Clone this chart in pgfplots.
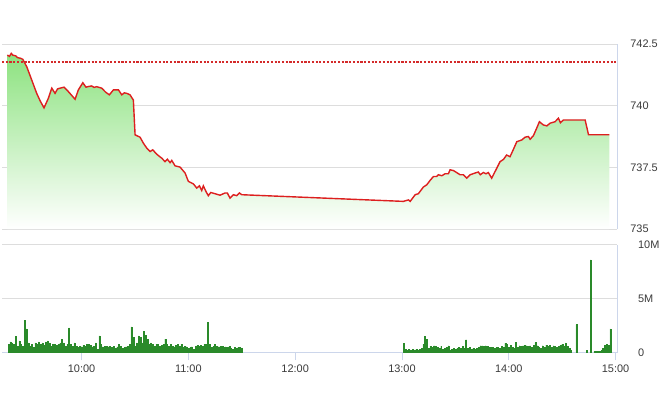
\documentclass[border=0pt]{standalone}
\usepackage{pgfplots}
\usepackage{pgfplotstable}
\pgfplotsset{compat=1.18}
\usepackage{fontspec}
\setmainfont{Liberation Sans}
\definecolor{linered}{HTML}{DD1F1F}
\definecolor{refred}{HTML}{D42A2A}
\definecolor{areagreen}{HTML}{8CE27F}
\definecolor{gridgray}{HTML}{DDDDDD}
\definecolor{axisblue}{HTML}{CCD6EB}
\definecolor{labelgray}{HTML}{3A3A3A}
\definecolor{bardark}{HTML}{2A8A2A}
\definecolor{barlight}{HTML}{86CC86}

\pgfplotstableread{
m p
18.3 742.05
19.5 742.00
20.5 742.12
21.35 742.05
23.0 742.02
24.0 741.95
25.8 741.92
26.97 741.88
29.2 741.58
32.0 741.04
34.8 740.50
36.7 740.20
38.9 739.91
41.35 740.30
43.26 740.71
45.1 740.50
46.5 740.68
47.9 740.71
50.2 740.75
52.6 740.57
56.35 740.26
58.2 740.64
60.7 740.93
62.5 740.75
64.0 740.78
65.7 740.80
67.0 740.74
68.5 740.77
71.3 740.71
73.5 740.55
75.6 740.44
77.9 740.64
80.7 740.64
82.6 740.44
84.0 740.52
85.4 740.50
87.2 740.44
89.1 740.23
90.06 738.82
92.87 738.72
94.72 738.48
96.63 738.28
98.48 738.14
100.0 738.21
102.25 738.03
105.06 737.87
106.91 737.73
108.2 737.83
109.72 737.69
110.67 737.78
112.53 737.56
115.34 737.51
118.15 737.27
120.0 736.93
122.8 736.83
124.7 736.66
126.2 736.75
127.5 736.56
128.4 736.75
129.9 736.52
131.2 736.35
132.6 736.48
135.0 736.43
137.8 736.37
140.6 736.46
141.9 736.46
143.4 736.25
145.3 736.39
147.2 736.35
148.7 736.46
150.0 736.39
240.8 736.12
243.6 736.18
244.6 736.12
247.4 736.39
249.2 736.43
252.0 736.70
253.9 736.79
255.8 736.97
257.7 737.13
259.5 737.13
260.4 737.20
262.4 737.16
264.2 737.24
266.1 737.24
267.0 737.40
268.9 737.37
270.7 737.29
272.6 737.20
274.5 737.20
276.4 737.06
278.3 737.20
281.1 737.27
282.9 737.31
284.0 737.20
285.7 737.29
287.2 737.24
288.5 737.29
290.4 737.06
292.3 737.33
295.1 737.73
297.0 737.82
298.8 738.00
300.7 737.93
302.6 738.23
304.5 738.54
307.3 738.61
309.1 738.72
311.0 738.75
312.0 738.64
313.8 738.78
315.7 739.09
317.2 739.35
319.4 739.22
321.4 739.18
323.2 739.29
326.0 739.35
327.9 739.49
329.0 739.31
330.7 739.42
342.9 739.42
344.8 738.82
356.5 738.82
}\price

\pgfplotstableread{
m v
19 0.8
20 1.0
21 0.9
22 0.8
23 1.5
24 0.6
25 1.1
26 0.8
27 0.6
28 3.0
29 2.2
30 0.9
31 0.6
32 0.8
33 0.5
34 0.9
35 0.8
36 1.0
37 0.8
38 0.9
39 0.7
40 1.0
41 1.1
42 0.9
43 0.6
44 0.8
45 0.8
46 0.7
47 0.8
48 0.9
49 1.25
50 0.9
51 0.6
52 0.8
53 2.3
54 0.8
55 0.6
56 0.9
57 0.6
58 0.5
59 0.6
60 0.55
61 0.7
62 0.6
63 0.8
64 0.8
65 0.7
66 0.55
67 0.6
68 0.9
69 0.3
70 1.56
71 0.8
72 0.55
73 0.6
74 0.6
75 0.55
76 0.6
77 0.5
78 0.6
79 0.4
80 0.55
81 0.8
82 0.6
83 0.4
84 0.5
85 0.55
86 0.6
87 0.8
88 2.4
89 1.4
90 0.6
91 0.9
92 1.56
93 1.4
94 0.9
95 2.0
96 1.6
97 1.25
98 0.8
99 0.9
100 0.8
101 0.6
102 0.8
103 0.8
104 0.6
105 0.7
106 0.8
107 1.25
108 0.8
109 0.6
110 0.8
111 0.6
112 0.55
113 0.7
114 0.8
115 0.6
116 0.8
117 0.5
118 0.6
119 0.55
120 0.4
121 0.47
122 0.55
123 0.3
124 0.6
125 0.7
126 0.6
127 0.7
128 0.6
129 0.8
130 0.8
131 2.8
132 0.8
133 0.5
134 0.6
135 0.8
136 0.6
137 0.55
138 0.6
139 0.6
140 0.47
141 0.55
142 0.47
143 0.6
144 0.4
145 0.3
146 0.47
147 0.4
148 0.5
149 0.47
150 0.44
241 0.87
242 0.3
243 0.2
244 0.3
245 0.25
246 0.3
247 0.25
248 0.3
249 0.25
250 0.3
251 0.4
252 0.8
253 1.5
254 1.25
255 0.4
256 0.6
257 0.5
258 0.65
259 0.6
260 0.5
261 0.4
262 0.6
263 0.3
264 0.4
265 0.5
266 0.65
267 0.25
268 0.3
269 0.4
270 0.3
271 0.4
272 0.5
273 0.4
274 0.6
275 0.4
276 1.2
277 0.4
278 0.5
279 0.3
280 0.4
281 0.3
282 0.4
283 0.5
284 0.65
285 0.65
286 0.6
287 0.65
288 0.6
289 0.5
290 0.5
291 0.5
292 0.4
293 0.5
294 0.5
295 0.4
296 0.6
297 0.5
298 0.87
299 0.8
300 0.5
301 0.7
302 0.5
303 0.4
304 0.94
305 0.5
306 0.65
307 0.6
308 0.65
309 0.7
310 0.65
311 0.6
312 0.65
313 0.5
314 0.7
315 0.94
316 0.65
317 0.5
318 0.4
319 0.65
320 0.5
321 0.7
322 0.6
323 0.7
324 0.5
325 0.65
326 0.6
327 0.5
328 0.6
329 0.7
330 0.8
331 0.65
332 0.9
333 0.6
334 0.4
335 0.2
338 2.6
344 0.2
346 8.6
348 0.1
349 0.1
350 0.1
351 0.1
352 0.2
353 0.4
354 0.7
355 0.8
356 0.7
357 2.2
}\volume

\begin{document}
\begin{tikzpicture}
\useasboundingbox (0,0) rectangle (495pt,309pt);
\pgfplotsset{
  every axis/.append style={
    scale only axis,
    width=461.25pt,
    xmin=15.3, xmax=360.8,
    font=\fontsize{8.2}{9.8}\selectfont,
    tick label style={text=labelgray},
    /pgf/number format/assume math mode=true,
    ymajorgrids,
    grid style={draw=gridgray, line width=0.6pt},
    axis line style={draw=axisblue, line width=0.6pt},
    ytick style={draw=none},
    yticklabel style={anchor=west, xshift=6.5pt},
  }
}
% price panel
\begin{axis}[
  at={(1.5pt,137.25pt)}, anchor=south west,
  height=138.75pt,
  ymin=735, ymax=742.5,
  axis x line=none,
  axis y line*=right,
  xtick=\empty,
  ytick={735,737.5,740,742.5},
  yticklabels={735,737.5,740,742.5},
]
\addplot[draw=none, top color=areagreen, bottom color=white] table[x=m,y=p] {\price} \closedcycle;
\addplot[linered, line width=1.05pt] table[x=m,y=p] {\price};
\addplot[refred, line width=1.1pt, dash pattern=on 1.6pt off 1.2pt] coordinates {(15.3,741.77) (360.8,741.77)};
\end{axis}
% volume panel
\begin{axis}[
  at={(1.5pt,44.5pt)}, anchor=south west,
  height=81pt,
  ymin=0, ymax=10,
  axis x line*=bottom,
  axis y line*=right,
  xtick={60,120,180,240,300,360},
  xticklabels={10:00,11:00,12:00,13:00,14:00,15:00},
  xtick style={draw=axisblue, line width=0.6pt},
  tick align=outside,
  major tick length=5.8pt,
  ytick={0,5,10},
  yticklabels={0,5M,10M},
]
\addplot[ybar, bar width=0.55, bar shift=0pt, fill=barlight, draw=bardark, line width=0.22pt] table[x=m,y=v] {\volume};
\end{axis}
\end{tikzpicture}
\end{document}
